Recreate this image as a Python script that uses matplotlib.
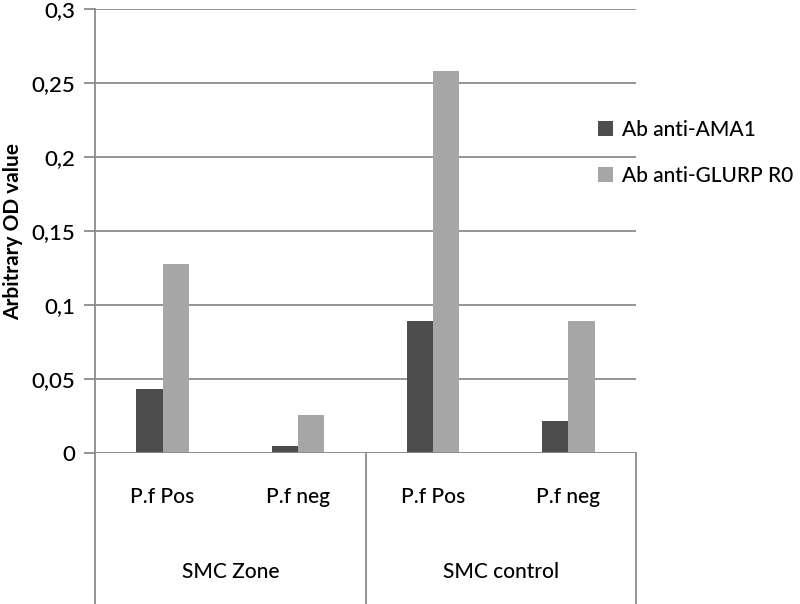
import matplotlib
matplotlib.use("Agg")
import matplotlib.pyplot as plt
import matplotlib.transforms as mtransforms
import numpy as np

plt.rcParams['font.family'] = ['Lato', 'DejaVu Sans']

categories = ["P.f Pos", "P.f neg", "P.f Pos", "P.f neg"]
groups = ["SMC Zone", "SMC control"]
series_names = ["Ab anti-AMA1", "Ab anti-GLURP R0"]
ama1 = [0.043, 0.0045, 0.089, 0.0215]
glurp = [0.128, 0.0256, 0.258, 0.089]
yticks = [0, 0.05, 0.1, 0.15, 0.2, 0.25, 0.3]
ytick_labels = ["0", "0,05", "0,1", "0,15", "0,2", "0,25", "0,3"]

colors = ["#4d4d4d", "#a6a6a6"]
grid_c = "#8c8c8c"

fig = plt.figure(figsize=(8.0, 6.04), dpi=100)
ax = fig.add_axes([95/800, 1-453/604, (636-95)/800, (453-9)/604])

x = np.arange(len(categories))
w = 0.195
b1 = ax.bar(x - w/2, ama1, width=w, color=colors[0], label=series_names[0], zorder=3)
b2 = ax.bar(x + w/2, glurp, width=w, color=colors[1], label=series_names[1], zorder=3)

ax.set_xlim(-0.5, len(categories) - 0.5)
ax.set_ylim(0, 0.3)
ax.set_yticks(yticks)
ax.set_yticklabels(ytick_labels, fontsize=16, fontweight="medium")
ax.yaxis.grid(True, color=grid_c, linewidth=1.3, zorder=0)
ax.set_axisbelow(True)
for s in ["top", "right", "bottom"]:
    ax.spines[s].set_visible(False)
ax.spines["left"].set_color(grid_c)
ax.spines["left"].set_linewidth(1.3)
ax.tick_params(axis="y", length=8, width=1.3, color=grid_c, pad=6)
ax.set_xticks([])

ax.set_ylabel("Arbitrary OD value", fontsize=15, fontweight="bold", labelpad=6)

# bottom axis line
ax.axhline(0, color=grid_c, linewidth=1.3, zorder=4)

# category & group labels below axis
trans = mtransforms.blended_transform_factory(ax.transData, fig.transFigure)
for xi, c in zip(x, categories):
    ax.text(xi, 1-497/604, c, transform=trans, ha="center", va="center",
            fontsize=15, fontweight="medium")
for gi, g in enumerate(groups):
    ax.text(gi*2 + 0.5, 1-572/604, g, transform=trans, ha="center", va="center",
            fontsize=15, fontweight="medium")
for bx in [-0.5, 1.5, 3.5]:
    ax.plot([bx, bx], [1-453/604, 0], transform=trans, color=grid_c, linewidth=1.3, clip_on=False)

leg = fig.legend(handles=[b1, b2], labels=series_names, loc="upper left",
                 bbox_to_anchor=(598/800, 1-120/604), frameon=False,
                 prop={"size": 15, "weight": "medium"},
                 handlelength=0.72, handleheight=0.72, handletextpad=0.45,
                 labelspacing=1.25, borderaxespad=0, borderpad=0)

fig.savefig("out.png", dpi=100)
